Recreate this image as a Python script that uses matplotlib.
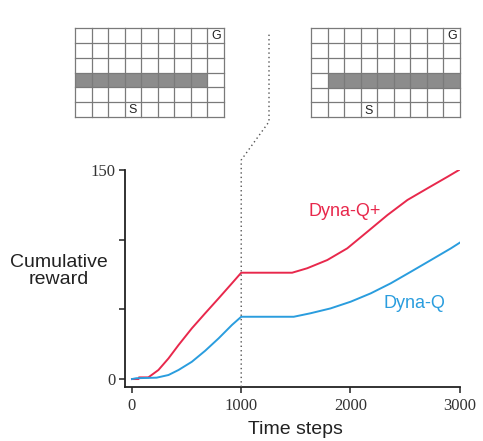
import matplotlib
matplotlib.use("Agg")
import matplotlib.pyplot as plt
from matplotlib.lines import Line2D
from matplotlib.patches import Rectangle

# ---- data ----
dynaq_plus_x = [0, 60, 64, 150, 242, 334, 426, 548, 670, 793, 915, 1000,
                1466, 1604, 1788, 1971, 2155, 2339, 2522, 2706, 2890, 3000]
dynaq_plus_y = [0, 0, 1.2, 1.2, 6.5, 14.8, 24.4, 36.4, 47.2, 57.9, 68.7, 76.3,
                76.3, 79.5, 85.4, 93.8, 105.7, 117.7, 128.5, 136.9, 145.2, 150.3]
dynaq_x = [0, 40, 226, 334, 426, 548, 670, 793, 915, 1000,
           1481, 1634, 1818, 2002, 2186, 2369, 2553, 2737, 2920, 3000]
dynaq_y = [0, 0.6, 1.0, 2.9, 6.5, 12.4, 20.3, 29.2, 38.8, 44.7,
           44.7, 47.2, 50.7, 55.5, 61.5, 68.7, 77.0, 85.4, 93.8, 97.8]
x_ticks = [0, 1000, 2000, 3000]
y_ticks = [0, 50, 100, 150]
y_tick_labels = ["0", "", "", "150"]
change_step = 1000

maze_rows, maze_cols = 6, 9
wall_row = 3
wall_cols_before = list(range(0, 8))
wall_cols_after = list(range(1, 9))
start_cell = (5, 3)
goal_cell = (0, 8)

RED = "#E8284C"
BLUE = "#2A9DDE"
W, H = 483, 441

fig = plt.figure(figsize=(W / 100, H / 100), dpi=100)
fig.patch.set_facecolor("white")

# main axes
ax = fig.add_axes([125 / W, 1 - 387 / H, (460 - 125) / W, (387 - 170) / H])
ax.plot(dynaq_plus_x, dynaq_plus_y, color=RED, lw=1.4, solid_joinstyle="round")
ax.plot(dynaq_x, dynaq_y, color=BLUE, lw=1.4, solid_joinstyle="round")
ax.set_xlim(-64, 3003)
ax.set_ylim(-5.7, 150)
for s in ["top", "right"]:
    ax.spines[s].set_visible(False)
for s in ["left", "bottom"]:
    ax.spines[s].set_linewidth(1.3)
    ax.spines[s].set_color("#222222")
ax.set_xticks(x_ticks)
ax.set_yticks(y_ticks)
ax.set_yticklabels(y_tick_labels)
ax.tick_params(direction="out", length=4, width=1.1, color="#222222",
               labelsize=12, labelcolor="#333333")
for lab in ax.get_xticklabels() + ax.get_yticklabels():
    lab.set_family("Liberation Serif")
ax.tick_params(axis="y", pad=3)
ax.tick_params(axis="x", pad=4)

ax.text(345 / W, 1 - 211.7 / H, "Dyna-Q+", transform=fig.transFigure,
        color=RED, fontsize=13, family="Liberation Sans", ha="center", va="center")
ax.text(414 / W, 1 - 303 / H, "Dyna-Q", transform=fig.transFigure,
        color=BLUE, fontsize=13, family="Liberation Sans", ha="center", va="center")
fig.text(295 / W, 1 - 430 / H, "Time steps", fontsize=14,
         family="Liberation Sans", ha="center", va="center", color="#222222")
fig.text(59 / W, 1 - 271 / H, "Cumulative\nreward", fontsize=14,
         family="Liberation Sans", ha="center", va="center", color="#222222",
         linespacing=1.05)

# dotted connector at the change step
fig.canvas.draw()
to_fig = fig.transFigure.inverted()
x_disp_bot = ax.transData.transform((change_step, ax.get_ylim()[0]))
bx, by = to_fig.transform(x_disp_bot)
pts_x = [bx, bx, 269 / W, 269 / W]
pts_y = [by, 1 - 160 / H, 1 - 121.7 / H, 1 - 33 / H]
fig.add_artist(Line2D(pts_x, pts_y, transform=fig.transFigure, color="#555555",
                      lw=1.0, linestyle=(0, (1, 2.2))))


def draw_maze(left, top, right, bottom, wall_cols):
    mx = fig.add_axes([left / W, 1 - bottom / H, (right - left) / W, (bottom - top) / H])
    mx.set_xlim(0, maze_cols)
    mx.set_ylim(maze_rows, 0)
    mx.axis("off")
    for c in wall_cols:
        mx.add_patch(Rectangle((c, wall_row), 1, 1, facecolor="#8c8c8c",
                               edgecolor="none"))
    for r in range(maze_rows + 1):
        mx.plot([0, maze_cols], [r, r], color="#7a7a7a", lw=0.9, clip_on=False)
    for c in range(maze_cols + 1):
        mx.plot([c, c], [0, maze_rows], color="#7a7a7a", lw=0.9, clip_on=False)
    mx.text(start_cell[1] + 0.5, start_cell[0] + 0.55, "S", ha="center", va="center",
            fontsize=9, family="Liberation Sans", color="#222222")
    mx.text(goal_cell[1] + 0.5, goal_cell[0] + 0.55, "G", ha="center", va="center",
            fontsize=9, family="Liberation Sans", color="#222222")


draw_maze(75, 28.3, 224, 116.7, wall_cols_before)
draw_maze(311, 28.3, 460, 117.3, wall_cols_after)

fig.savefig("out.png", dpi=100, facecolor="white")
